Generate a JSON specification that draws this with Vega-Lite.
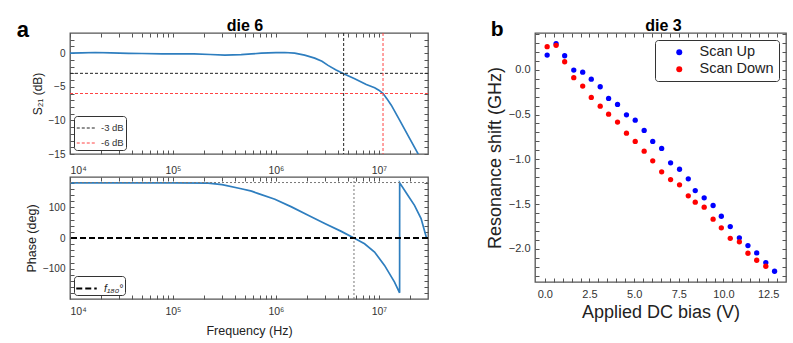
{
  "$schema": "https://vega.github.io/schema/vega-lite/v6.json",
  "background": "white",
  "padding": {"left": 16, "top": 16, "right": 2, "bottom": 2},
  "config": {
    "font": "Liberation Sans",
    "view": {"stroke": "#555", "strokeWidth": 1.3},
    "axis": {"grid": false, "domain": false, "labelColor": "#333", "titleColor": "#222", "tickColor": "#555", "tickWidth": 1, "titleFontWeight": "normal", "labelFont": "Liberation Sans", "titleFont": "Liberation Sans"},
    "legend": {"labelFont": "Liberation Sans"},
    "title": {"font": "Liberation Sans", "color": "black"}
  },
  "datasets": {
    "s21": [
      {"f": 10000, "db": 0.0}, {"f": 13000, "db": 0.05}, {"f": 17600, "db": 0.1}, {"f": 25000, "db": 0.05},
      {"f": 37000, "db": -0.02}, {"f": 50000, "db": -0.05}, {"f": 78000, "db": -0.1}, {"f": 100000, "db": -0.1},
      {"f": 160000, "db": -0.12}, {"f": 230000, "db": -0.2}, {"f": 320000, "db": -0.3}, {"f": 460000, "db": -0.22},
      {"f": 580000, "db": -0.12}, {"f": 720000, "db": 0.0}, {"f": 1000000, "db": 0.08}, {"f": 1220000, "db": 0.1},
      {"f": 1520000, "db": 0.0}, {"f": 1900000, "db": -0.3}, {"f": 2380000, "db": -0.74}, {"f": 2800000, "db": -1.2},
      {"f": 3210000, "db": -1.82}, {"f": 3800000, "db": -2.45}, {"f": 4550000, "db": -3.05}, {"f": 5820000, "db": -3.79},
      {"f": 7550000, "db": -4.67}, {"f": 9100000, "db": -5.15}, {"f": 10000000, "db": -5.5}, {"f": 11000000, "db": -6.0},
      {"f": 12000000, "db": -6.8}, {"f": 13200000, "db": -7.74}, {"f": 15900000, "db": -9.96}, {"f": 19100000, "db": -12.2},
      {"f": 23900000, "db": -14.9}, {"f": 25000000, "db": -15.6}
    ],
    "hr_a": [{"y": -3, "k": "-3 dB"}, {"y": -6, "k": "-6 dB"}],
    "vr_a": [{"x": 4550000, "k": "-3 dB"}, {"x": 10970000, "k": "-6 dB"}],
    "phase": [
      {"f": 10000, "p": 179}, {"f": 100000, "p": 179}, {"f": 220000, "p": 178}, {"f": 300000, "p": 173},
      {"f": 460000, "p": 160}, {"f": 580000, "p": 152}, {"f": 676000, "p": 144}, {"f": 977000, "p": 126},
      {"f": 1416000, "p": 101}, {"f": 2056000, "p": 74}, {"f": 2980000, "p": 47}, {"f": 4315000, "p": 21.5},
      {"f": 5730000, "p": 0}, {"f": 7260000, "p": -18.6}, {"f": 9080000, "p": -45.6}, {"f": 11350000, "p": -89},
      {"f": 14190000, "p": -143}, {"f": 15900000, "p": -178}, {"f": 15920000, "p": 179}, {"f": 19100000, "p": 139},
      {"f": 22180000, "p": 106}, {"f": 25700000, "p": 63}, {"f": 28840000, "p": 3}, {"f": 30000000, "p": -2}
    ],
    "zero": [{"y": 0, "k": "f₁₈₀°"}],
    "dot_h": [{"y": 180}],
    "dot_v": [{"x": 5730000}],
    "scan": [
      {"v": 0.13, "s": 0.163, "series": "Scan Up"}, {"v": 0.63, "s": 0.29, "series": "Scan Up"}, {"v": 1.11, "s": 0.156, "series": "Scan Up"},
      {"v": 1.62, "s": -0.004, "series": "Scan Up"}, {"v": 2.12, "s": -0.027, "series": "Scan Up"}, {"v": 2.6, "s": -0.105, "series": "Scan Up"},
      {"v": 3.1, "s": -0.19, "series": "Scan Up"}, {"v": 3.57, "s": -0.321, "series": "Scan Up"}, {"v": 4.07, "s": -0.388, "series": "Scan Up"},
      {"v": 4.57, "s": -0.503, "series": "Scan Up"}, {"v": 5.06, "s": -0.563, "series": "Scan Up"}, {"v": 5.56, "s": -0.678, "series": "Scan Up"},
      {"v": 6.04, "s": -0.801, "series": "Scan Up"}, {"v": 6.54, "s": -0.879, "series": "Scan Up"}, {"v": 7.04, "s": -1.039, "series": "Scan Up"},
      {"v": 7.54, "s": -1.111, "series": "Scan Up"}, {"v": 8.03, "s": -1.218, "series": "Scan Up"}, {"v": 8.42, "s": -1.349, "series": "Scan Up"},
      {"v": 8.92, "s": -1.43, "series": "Scan Up"}, {"v": 9.42, "s": -1.516, "series": "Scan Up"}, {"v": 9.88, "s": -1.636, "series": "Scan Up"},
      {"v": 10.38, "s": -1.751, "series": "Scan Up"}, {"v": 10.89, "s": -1.877, "series": "Scan Up"}, {"v": 11.37, "s": -1.963, "series": "Scan Up"},
      {"v": 11.86, "s": -2.045, "series": "Scan Up"}, {"v": 12.37, "s": -2.153, "series": "Scan Up"}, {"v": 12.86, "s": -2.25, "series": "Scan Up"},
      {"v": 0.13, "s": 0.257, "series": "Scan Down"}, {"v": 0.63, "s": 0.272, "series": "Scan Down"}, {"v": 1.11, "s": 0.089, "series": "Scan Down"},
      {"v": 1.62, "s": -0.089, "series": "Scan Down"}, {"v": 2.12, "s": -0.183, "series": "Scan Down"}, {"v": 2.6, "s": -0.309, "series": "Scan Down"},
      {"v": 3.1, "s": -0.407, "series": "Scan Down"}, {"v": 3.57, "s": -0.496, "series": "Scan Down"}, {"v": 4.07, "s": -0.585, "series": "Scan Down"},
      {"v": 4.57, "s": -0.708, "series": "Scan Down"}, {"v": 5.06, "s": -0.801, "series": "Scan Down"}, {"v": 5.56, "s": -0.909, "series": "Scan Down"},
      {"v": 6.04, "s": -1.017, "series": "Scan Down"}, {"v": 6.54, "s": -1.14, "series": "Scan Down"}, {"v": 7.04, "s": -1.226, "series": "Scan Down"},
      {"v": 7.54, "s": -1.285, "series": "Scan Down"}, {"v": 8.03, "s": -1.408, "series": "Scan Down"}, {"v": 8.42, "s": -1.479, "series": "Scan Down"},
      {"v": 8.92, "s": -1.535, "series": "Scan Down"}, {"v": 9.42, "s": -1.669, "series": "Scan Down"}, {"v": 9.88, "s": -1.765, "series": "Scan Down"},
      {"v": 10.38, "s": -1.882, "series": "Scan Down"}, {"v": 10.89, "s": -1.922, "series": "Scan Down"}, {"v": 11.37, "s": -2.049, "series": "Scan Down"},
      {"v": 11.86, "s": -2.127, "series": "Scan Down"}, {"v": 12.37, "s": -2.194, "series": "Scan Down"}
    ]
  },
  "resolve": {"scale": {"color": "independent"}, "legend": {"color": "independent"}},
  "spacing": 55,
  "hconcat": [
    {
      "title": {"text": "a", "anchor": "start", "frame": "bounds", "fontSize": 22, "fontWeight": "bold", "dy": 29, "dx": -8},
      "spacing": -2,
      "resolve": {"scale": {"color": "independent"}, "legend": {"color": "independent"}},
      "vconcat": [
        {
          "width": 358, "height": 121,
          "title": {"text": "die 6", "fontSize": 16, "fontWeight": "bold", "frame": "group", "offset": -1, "dx": -4},
          "resolve": {"scale": {"x": "independent", "y": "independent"}},
          "layer": [
            {
              "data": {"name": "s21"},
              "mark": {"type": "line", "color": "#2e7ebf", "strokeWidth": 1.7, "clip": true},
              "encoding": {
                "x": {"field": "f", "type": "quantitative", "scale": {"type": "log", "domain": [10000, 30000000], "nice": false},
                  "axis": {"orient": "bottom", "title": null, "values": [10000,20000,30000,40000,50000,60000,70000,80000,90000,100000,200000,300000,400000,500000,600000,700000,800000,900000,1000000,2000000,3000000,4000000,5000000,6000000,7000000,8000000,9000000,10000000,20000000],
                    "labelExpr": "datum.value == 10000 ? '10⁴' : datum.value == 100000 ? '10⁵' : datum.value == 1000000 ? '10⁶' : datum.value == 10000000 ? '10⁷' : ''",
                    "labelFontSize": 10.5, "tickSize": -4, "labelPadding": 15,
                    "encode": {"ticks": {"update": {"y2": {"signal": "indexof([10000,100000,1000000,10000000], datum.value) >= 0 ? -4 : -2"}}}}}},
                "y": {"field": "db", "type": "quantitative", "scale": {"domain": [-15, 3], "nice": false, "zero": false},
                  "axis": {"orient": "left", "title": "S₂₁ (dB)", "titleFontSize": 12, "values": [-15,-14,-13,-12,-11,-10,-9,-8,-7,-6,-5,-4,-3,-2,-1,0,1,2],
                    "labelExpr": "datum.value % 5 == 0 ? format(datum.value, 'd') : ''", "labelFontSize": 10, "tickSize": -4, "labelPadding": 9,
                    "encode": {"ticks": {"update": {"x2": {"signal": "datum.value % 5 == 0 ? 4 : 2"}}}}}}
              }
            },
            {
              "data": {"name": "hr_a"},
              "mark": {"type": "rule", "strokeDash": [3, 2], "strokeWidth": 1},
              "encoding": {
                "y": {"field": "y", "type": "quantitative", "scale": {"domain": [-15, 3], "nice": false, "zero": false},
                  "axis": {"orient": "right", "title": null, "labels": false, "tickSize": -4, "values": [-15,-14,-13,-12,-11,-10,-9,-8,-7,-6,-5,-4,-3,-2,-1,0,1,2],
                    "encode": {"ticks": {"update": {"x2": {"signal": "datum.value % 5 == 0 ? -4 : -2"}}}}}},
                "color": {"field": "k", "type": "nominal", "scale": {"domain": ["-3 dB", "-6 dB"], "range": ["#222", "#f44"]},
                  "legend": {"title": null, "orient": "bottom-left", "offset": 4, "symbolType": "stroke", "symbolSize": 340, "symbolDash": [3, 2], "symbolStrokeWidth": 1,
                    "labelFontSize": 9.5, "labelColor": "#333", "strokeColor": "#333", "fillColor": "white", "padding": 2, "cornerRadius": 3, "rowPadding": -5, "labelOffset": 5}}
              }
            },
            {
              "data": {"name": "vr_a"},
              "mark": {"type": "rule", "strokeDash": [3, 2], "strokeWidth": 1},
              "encoding": {
                "x": {"field": "x", "type": "quantitative", "scale": {"type": "log", "domain": [10000, 30000000], "nice": false},
                  "axis": {"orient": "top", "title": null, "labels": false, "tickSize": -4,
                    "values": [10000,20000,30000,40000,50000,60000,70000,80000,90000,100000,200000,300000,400000,500000,600000,700000,800000,900000,1000000,2000000,3000000,4000000,5000000,6000000,7000000,8000000,9000000,10000000,20000000],
                    "encode": {"ticks": {"update": {"y2": {"signal": "indexof([10000,100000,1000000,10000000], datum.value) >= 0 ? 4 : 2"}}}}}},
                "color": {"field": "k", "type": "nominal"}
              }
            }
          ]
        },
        {
          "width": 358, "height": 122,
          "resolve": {"scale": {"x": "independent", "y": "independent"}},
          "layer": [
            {
              "data": {"name": "phase"},
              "mark": {"type": "line", "color": "#2e7ebf", "strokeWidth": 1.7, "clip": true},
              "encoding": {
                "x": {"field": "f", "type": "quantitative", "scale": {"type": "log", "domain": [10000, 30000000], "nice": false},
                  "axis": {"orient": "bottom", "title": "Frequency (Hz)", "titleFontSize": 12.5, "titlePadding": 8, "values": [10000,20000,30000,40000,50000,60000,70000,80000,90000,100000,200000,300000,400000,500000,600000,700000,800000,900000,1000000,2000000,3000000,4000000,5000000,6000000,7000000,8000000,9000000,10000000,20000000],
                    "labelExpr": "datum.value == 10000 ? '10⁴' : datum.value == 100000 ? '10⁵' : datum.value == 1000000 ? '10⁶' : datum.value == 10000000 ? '10⁷' : ''",
                    "labelFontSize": 10.5, "tickSize": -4, "labelPadding": 11,
                    "encode": {"ticks": {"update": {"y2": {"signal": "indexof([10000,100000,1000000,10000000], datum.value) >= 0 ? -4 : -2"}}}}}},
                "y": {"field": "p", "type": "quantitative", "scale": {"domain": [-198, 198], "nice": false, "zero": false},
                  "axis": {"orient": "left", "title": "Phase (deg)", "titleFontSize": 12.5, "values": [-180,-160,-140,-120,-100,-80,-60,-40,-20,0,20,40,60,80,100,120,140,160,180],
                    "labelExpr": "datum.value % 100 == 0 ? format(datum.value, 'd') : ''", "labelFontSize": 10, "tickSize": -4, "labelPadding": 9,
                    "encode": {"ticks": {"update": {"x2": {"signal": "datum.value % 100 == 0 ? 4 : 2"}}}}}}
              }
            },
            {
              "data": {"name": "dot_h"},
              "mark": {"type": "rule", "strokeDash": [2, 2], "strokeWidth": 1, "color": "#777"},
              "encoding": {
                "y": {"field": "y", "type": "quantitative", "scale": {"domain": [-198, 198], "nice": false, "zero": false},
                  "axis": {"orient": "right", "title": null, "labels": false, "tickSize": -4,
                    "values": [-180,-160,-140,-120,-100,-80,-60,-40,-20,0,20,40,60,80,100,120,140,160,180],
                    "encode": {"ticks": {"update": {"x2": {"signal": "datum.value % 100 == 0 ? -4 : -2"}}}}}}
              }
            },
            {
              "data": {"name": "dot_v"},
              "mark": {"type": "rule", "strokeDash": [2, 2], "strokeWidth": 1, "color": "#777"},
              "encoding": {
                "x": {"field": "x", "type": "quantitative", "scale": {"type": "log", "domain": [10000, 30000000], "nice": false},
                  "axis": {"orient": "top", "title": null, "labels": false, "tickSize": -4,
                    "values": [10000,20000,30000,40000,50000,60000,70000,80000,90000,100000,200000,300000,400000,500000,600000,700000,800000,900000,1000000,2000000,3000000,4000000,5000000,6000000,7000000,8000000,9000000,10000000,20000000],
                    "encode": {"ticks": {"update": {"y2": {"signal": "indexof([10000,100000,1000000,10000000], datum.value) >= 0 ? 4 : 2"}}}}}}
              }
            },
            {
              "data": {"name": "zero"},
              "mark": {"type": "rule", "strokeDash": [6, 3], "strokeWidth": 2},
              "encoding": {
                "y": {"field": "y", "type": "quantitative", "scale": {"domain": [-198, 198], "nice": false, "zero": false}, "axis": null},
                "color": {"field": "k", "type": "nominal", "scale": {"domain": ["f₁₈₀°"], "range": ["black"]},
                  "legend": {"title": null, "orient": "bottom-left", "offset": 4, "symbolType": "stroke", "symbolSize": 420, "symbolDash": [6, 3], "symbolStrokeWidth": 2,
                    "labelFontSize": 10.5, "labelFontStyle": "italic", "labelColor": "#222", "strokeColor": "#333", "fillColor": "white", "padding": 1, "cornerRadius": 3, "labelOffset": 6}}
              }
            }
          ]
        }
      ]
    },
    {
      "title": {"text": "b", "anchor": "start", "frame": "bounds", "fontSize": 21, "fontWeight": "bold", "dy": 27, "dx": 5},
      "resolve": {"scale": {"color": "independent"}, "legend": {"color": "independent"}},
      "vconcat": [
        {
          "width": 251, "height": 249,
          "title": {"text": "die 3", "fontSize": 16, "fontWeight": "bold", "frame": "group", "offset": -1, "dx": 3},
          "resolve": {"scale": {"x": "independent", "y": "independent"}},
          "layer": [
            {
              "data": {"name": "scan"},
              "mark": {"type": "point", "filled": true, "size": 28, "opacity": 1},
              "encoding": {
                "x": {"field": "v", "type": "quantitative", "scale": {"domain": [-0.55, 13.5], "nice": false, "zero": false},
                  "axis": {"orient": "bottom", "title": "Applied DC bias (V)", "titleFontSize": 18, "values": [0,0.5,1,1.5,2,2.5,3,3.5,4,4.5,5,5.5,6,6.5,7,7.5,8,8.5,9,9.5,10,10.5,11,11.5,12,12.5,13],
                    "labelExpr": "datum.value % 2.5 == 0 ? format(datum.value, '.1f') : ''", "labelFontSize": 11, "tickSize": -4, "labelPadding": 10,
                    "encode": {"ticks": {"update": {"y2": {"signal": "datum.value % 2.5 == 0 ? -4 : -2"}}}}}},
                "y": {"field": "s", "type": "quantitative", "scale": {"domain": [-2.37, 0.41], "nice": false, "zero": false},
                  "axis": {"orient": "left", "title": "Resonance shift (GHz)", "titleFontSize": 18, "values": [-2.3,-2.2,-2.1,-2.0,-1.9,-1.8,-1.7,-1.6,-1.5,-1.4,-1.3,-1.2,-1.1,-1.0,-0.9,-0.8,-0.7,-0.6,-0.5,-0.4,-0.3,-0.2,-0.1,0,0.1,0.2,0.3,0.4],
                    "labelExpr": "abs(round(datum.value * 10)) % 5 == 0 ? format(datum.value, '.1f') : ''", "labelFontSize": 11, "tickSize": -4, "labelPadding": 9,
                    "encode": {"ticks": {"update": {"x2": {"signal": "abs(round(datum.value * 10)) % 5 == 0 ? 4 : 2"}}}}}},
                "color": {"field": "series", "type": "nominal", "scale": {"domain": ["Scan Up", "Scan Down"], "range": ["#0000ff", "#ff0000"]},
                  "legend": {"title": null, "orient": "top-right", "offset": 7, "symbolType": "circle", "symbolSize": 36, "labelFontSize": 14.5, "labelColor": "#222",
                    "strokeColor": "#333", "fillColor": "white", "padding": 5, "cornerRadius": 3, "rowPadding": 2, "labelOffset": 13, "symbolOffset": 12}}
              }
            },
            {
              "data": {"name": "scan"},
              "mark": {"type": "point", "filled": true, "size": 28, "opacity": 0},
              "encoding": {
                "x": {"field": "v", "type": "quantitative", "scale": {"domain": [-0.55, 13.5], "nice": false, "zero": false},
                  "axis": {"orient": "top", "title": null, "labels": false, "tickSize": -4,
                    "values": [0,0.5,1,1.5,2,2.5,3,3.5,4,4.5,5,5.5,6,6.5,7,7.5,8,8.5,9,9.5,10,10.5,11,11.5,12,12.5,13],
                    "encode": {"ticks": {"update": {"y2": {"signal": "datum.value % 2.5 == 0 ? 4 : 2"}}}}}},
                "y": {"field": "s", "type": "quantitative", "scale": {"domain": [-2.37, 0.41], "nice": false, "zero": false},
                  "axis": {"orient": "right", "title": null, "labels": false, "tickSize": -4,
                    "values": [-2.3,-2.2,-2.1,-2.0,-1.9,-1.8,-1.7,-1.6,-1.5,-1.4,-1.3,-1.2,-1.1,-1.0,-0.9,-0.8,-0.7,-0.6,-0.5,-0.4,-0.3,-0.2,-0.1,0,0.1,0.2,0.3,0.4],
                    "encode": {"ticks": {"update": {"x2": {"signal": "abs(round(datum.value * 10)) % 5 == 0 ? -4 : -2"}}}}}}
              }
            }
          ]
        }
      ]
    }
  ]
}
